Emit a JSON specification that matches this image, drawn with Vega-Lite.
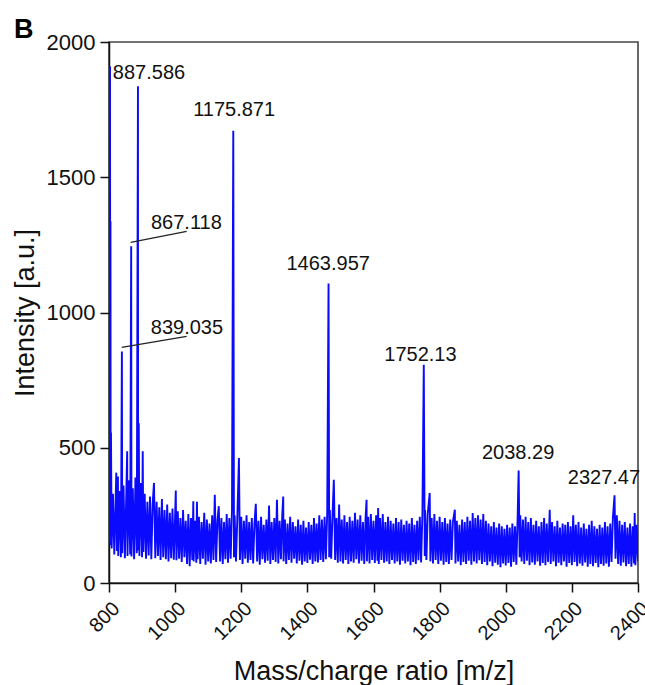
{
  "$schema": "https://vega.github.io/schema/vega-lite/v6.json",
  "autosize": "none",
  "width": 529,
  "height": 541,
  "padding": {"left": 109, "top": 42, "right": 7, "bottom": 102},
  "background": "white",
  "config": {
    "view": {"stroke": "#444", "strokeWidth": 1.6},
    "axis": {"grid": false, "domainColor": "#111", "domainWidth": 1.5, "tickColor": "#111", "tickWidth": 1.5, "tickSize": 9, "labelFont": "Liberation Sans", "labelColor": "#111", "titleFont": "Liberation Sans", "titleColor": "#111", "titleFontWeight": "normal", "titleFontSize": 27, "format": "d"}
  },
  "datasets": {
    "spectrum": [
      {"m":800,"i":150},{"m":802,"i":220},{"m":803,"i":1910},{"m":804,"i":300},{"m":804.5,"i":1337},{"m":805,"i":140},{"m":806,"i":556},{"m":808,"i":128},{"m":812,"i":330},{"m":816,"i":105},{"m":820,"i":300},{"m":822,"i":408},{"m":824,"i":118},{"m":827,"i":394},{"m":828,"i":100},{"m":832,"i":340},{"m":836,"i":95},{"m":839,"i":856},{"m":840,"i":110},{"m":844,"i":360},{"m":848,"i":92},{"m":852,"i":310},{"m":855,"i":487},{"m":856,"i":100},{"m":860,"i":380},{"m":864,"i":105},{"m":867.1,"i":1245},{"m":868,"i":98},{"m":872,"i":350},{"m":876,"i":88},{"m":880,"i":390},{"m":884,"i":110},{"m":887.6,"i":1836},{"m":888,"i":120},{"m":890,"i":591},{"m":892,"i":100},{"m":896,"i":370},{"m":900,"i":95},{"m":902,"i":487},{"m":904,"i":115},{"m":908,"i":330},{"m":912,"i":90},{"m":916,"i":300},{"m":920,"i":102},{"m":924,"i":320},{"m":928,"i":88},{"m":932,"i":290},{"m":936,"i":370},{"m":940,"i":92},{"m":944,"i":300},{"m":948,"i":100},{"m":952,"i":280},{"m":956,"i":85},{"m":960,"i":310},{"m":964,"i":95},{"m":968,"i":270},{"m":972,"i":88},{"m":976,"i":290},{"m":980,"i":80},{"m":984,"i":260},{"m":988,"i":92},{"m":992,"i":275},{"m":996,"i":86},{"m":1000,"i":250},{"m":1002,"i":342},{"m":1004,"i":84},{"m":1008,"i":265},{"m":1012,"i":90},{"m":1016,"i":240},{"m":1020,"i":78},{"m":1024,"i":270},{"m":1028,"i":95},{"m":1032,"i":230},{"m":1036,"i":70},{"m":1040,"i":255},{"m":1044,"i":62},{"m":1048,"i":240},{"m":1052,"i":85},{"m":1055,"i":302},{"m":1056,"i":80},{"m":1060,"i":230},{"m":1064,"i":75},{"m":1066,"i":300},{"m":1068,"i":88},{"m":1072,"i":245},{"m":1076,"i":70},{"m":1080,"i":225},{"m":1084,"i":90},{"m":1088,"i":260},{"m":1092,"i":68},{"m":1096,"i":235},{"m":1100,"i":80},{"m":1104,"i":220},{"m":1108,"i":72},{"m":1112,"i":250},{"m":1116,"i":85},{"m":1120,"i":326},{"m":1124,"i":78},{"m":1128,"i":230},{"m":1132,"i":284},{"m":1136,"i":80},{"m":1140,"i":240},{"m":1144,"i":70},{"m":1148,"i":225},{"m":1152,"i":88},{"m":1156,"i":255},{"m":1160,"i":75},{"m":1164,"i":240},{"m":1168,"i":90},{"m":1172,"i":270},{"m":1175.9,"i":1672},{"m":1178,"i":95},{"m":1180,"i":250},{"m":1184,"i":80},{"m":1188,"i":235},{"m":1193,"i":462},{"m":1196,"i":85},{"m":1200,"i":245},{"m":1204,"i":70},{"m":1208,"i":230},{"m":1212,"i":90},{"m":1216,"i":250},{"m":1220,"i":75},{"m":1224,"i":225},{"m":1228,"i":85},{"m":1232,"i":240},{"m":1236,"i":72},{"m":1240,"i":220},{"m":1244,"i":293},{"m":1248,"i":80},{"m":1252,"i":230},{"m":1256,"i":68},{"m":1260,"i":245},{"m":1264,"i":88},{"m":1268,"i":215},{"m":1272,"i":75},{"m":1276,"i":235},{"m":1280,"i":82},{"m":1284,"i":286},{"m":1288,"i":70},{"m":1292,"i":225},{"m":1296,"i":85},{"m":1300,"i":240},{"m":1304,"i":78},{"m":1308,"i":308},{"m":1312,"i":72},{"m":1316,"i":230},{"m":1320,"i":88},{"m":1324,"i":250},{"m":1327,"i":320},{"m":1328,"i":80},{"m":1332,"i":235},{"m":1336,"i":70},{"m":1340,"i":220},{"m":1344,"i":85},{"m":1348,"i":245},{"m":1352,"i":75},{"m":1356,"i":225},{"m":1360,"i":90},{"m":1364,"i":210},{"m":1368,"i":72},{"m":1372,"i":235},{"m":1376,"i":82},{"m":1380,"i":215},{"m":1384,"i":68},{"m":1388,"i":230},{"m":1392,"i":80},{"m":1396,"i":205},{"m":1400,"i":74},{"m":1404,"i":225},{"m":1408,"i":86},{"m":1412,"i":215},{"m":1416,"i":70},{"m":1420,"i":240},{"m":1424,"i":80},{"m":1428,"i":220},{"m":1432,"i":76},{"m":1436,"i":250},{"m":1440,"i":85},{"m":1444,"i":235},{"m":1448,"i":78},{"m":1452,"i":245},{"m":1456,"i":88},{"m":1460,"i":260},{"m":1464,"i":1107},{"m":1466,"i":95},{"m":1468,"i":270},{"m":1472,"i":90},{"m":1476,"i":250},{"m":1480,"i":382},{"m":1484,"i":85},{"m":1488,"i":240},{"m":1492,"i":75},{"m":1496,"i":290},{"m":1500,"i":80},{"m":1504,"i":235},{"m":1508,"i":72},{"m":1512,"i":250},{"m":1516,"i":85},{"m":1520,"i":225},{"m":1524,"i":70},{"m":1528,"i":245},{"m":1532,"i":80},{"m":1536,"i":230},{"m":1540,"i":75},{"m":1544,"i":260},{"m":1548,"i":88},{"m":1552,"i":235},{"m":1556,"i":72},{"m":1560,"i":250},{"m":1564,"i":82},{"m":1568,"i":225},{"m":1572,"i":70},{"m":1576,"i":240},{"m":1579,"i":308},{"m":1580,"i":80},{"m":1584,"i":245},{"m":1588,"i":72},{"m":1592,"i":255},{"m":1596,"i":85},{"m":1600,"i":230},{"m":1604,"i":74},{"m":1608,"i":250},{"m":1612,"i":82},{"m":1614,"i":277},{"m":1616,"i":70},{"m":1620,"i":240},{"m":1624,"i":85},{"m":1628,"i":255},{"m":1632,"i":75},{"m":1636,"i":225},{"m":1640,"i":80},{"m":1644,"i":245},{"m":1648,"i":70},{"m":1652,"i":230},{"m":1656,"i":85},{"m":1660,"i":220},{"m":1664,"i":72},{"m":1668,"i":240},{"m":1672,"i":80},{"m":1676,"i":225},{"m":1680,"i":68},{"m":1684,"i":235},{"m":1688,"i":82},{"m":1692,"i":215},{"m":1696,"i":72},{"m":1700,"i":230},{"m":1704,"i":80},{"m":1708,"i":220},{"m":1712,"i":66},{"m":1716,"i":240},{"m":1720,"i":78},{"m":1724,"i":215},{"m":1728,"i":70},{"m":1732,"i":230},{"m":1736,"i":84},{"m":1740,"i":245},{"m":1744,"i":76},{"m":1748,"i":260},{"m":1752.1,"i":807},{"m":1755,"i":100},{"m":1756,"i":270},{"m":1760,"i":85},{"m":1764,"i":255},{"m":1770,"i":333},{"m":1772,"i":80},{"m":1776,"i":240},{"m":1780,"i":72},{"m":1784,"i":255},{"m":1788,"i":85},{"m":1792,"i":230},{"m":1796,"i":70},{"m":1800,"i":245},{"m":1804,"i":82},{"m":1808,"i":225},{"m":1812,"i":68},{"m":1816,"i":240},{"m":1820,"i":78},{"m":1824,"i":220},{"m":1828,"i":70},{"m":1832,"i":235},{"m":1836,"i":85},{"m":1840,"i":225},{"m":1846,"i":271},{"m":1848,"i":72},{"m":1852,"i":230},{"m":1856,"i":80},{"m":1860,"i":215},{"m":1864,"i":66},{"m":1868,"i":235},{"m":1872,"i":78},{"m":1876,"i":225},{"m":1880,"i":70},{"m":1884,"i":245},{"m":1888,"i":82},{"m":1892,"i":230},{"m":1896,"i":68},{"m":1900,"i":259},{"m":1904,"i":80},{"m":1908,"i":240},{"m":1912,"i":72},{"m":1916,"i":250},{"m":1920,"i":84},{"m":1924,"i":235},{"m":1928,"i":70},{"m":1932,"i":255},{"m":1936,"i":78},{"m":1940,"i":230},{"m":1944,"i":66},{"m":1948,"i":220},{"m":1952,"i":80},{"m":1956,"i":210},{"m":1960,"i":62},{"m":1964,"i":225},{"m":1968,"i":75},{"m":1972,"i":205},{"m":1976,"i":68},{"m":1980,"i":220},{"m":1984,"i":58},{"m":1988,"i":210},{"m":1992,"i":72},{"m":1996,"i":200},{"m":2000,"i":65},{"m":2004,"i":215},{"m":2008,"i":74},{"m":2012,"i":205},{"m":2016,"i":60},{"m":2020,"i":220},{"m":2024,"i":78},{"m":2028,"i":210},{"m":2032,"i":68},{"m":2036,"i":245},{"m":2039,"i":416},{"m":2042,"i":95},{"m":2044,"i":250},{"m":2048,"i":80},{"m":2052,"i":235},{"m":2056,"i":70},{"m":2060,"i":245},{"m":2064,"i":82},{"m":2068,"i":225},{"m":2072,"i":66},{"m":2076,"i":240},{"m":2080,"i":76},{"m":2084,"i":215},{"m":2088,"i":68},{"m":2092,"i":230},{"m":2096,"i":80},{"m":2100,"i":210},{"m":2104,"i":64},{"m":2108,"i":225},{"m":2112,"i":74},{"m":2116,"i":240},{"m":2120,"i":66},{"m":2124,"i":220},{"m":2128,"i":78},{"m":2133,"i":271},{"m":2136,"i":70},{"m":2140,"i":225},{"m":2144,"i":80},{"m":2148,"i":210},{"m":2152,"i":62},{"m":2156,"i":230},{"m":2160,"i":75},{"m":2164,"i":205},{"m":2168,"i":66},{"m":2172,"i":220},{"m":2176,"i":80},{"m":2180,"i":215},{"m":2184,"i":60},{"m":2188,"i":225},{"m":2192,"i":74},{"m":2196,"i":210},{"m":2200,"i":66},{"m":2204,"i":250},{"m":2208,"i":78},{"m":2212,"i":215},{"m":2216,"i":62},{"m":2220,"i":225},{"m":2224,"i":72},{"m":2228,"i":205},{"m":2232,"i":64},{"m":2236,"i":220},{"m":2240,"i":76},{"m":2244,"i":200},{"m":2248,"i":60},{"m":2252,"i":215},{"m":2256,"i":70},{"m":2260,"i":230},{"m":2264,"i":62},{"m":2268,"i":210},{"m":2272,"i":74},{"m":2276,"i":200},{"m":2280,"i":58},{"m":2284,"i":215},{"m":2288,"i":70},{"m":2292,"i":205},{"m":2296,"i":64},{"m":2300,"i":225},{"m":2304,"i":72},{"m":2308,"i":210},{"m":2312,"i":60},{"m":2316,"i":220},{"m":2320,"i":78},{"m":2324,"i":240},{"m":2329,"i":324},{"m":2332,"i":90},{"m":2336,"i":250},{"m":2340,"i":70},{"m":2344,"i":230},{"m":2348,"i":64},{"m":2352,"i":215},{"m":2356,"i":76},{"m":2360,"i":225},{"m":2364,"i":62},{"m":2368,"i":205},{"m":2372,"i":70},{"m":2376,"i":220},{"m":2380,"i":60},{"m":2384,"i":210},{"m":2388,"i":72},{"m":2390,"i":259},{"m":2392,"i":66},{"m":2396,"i":215},{"m":2400,"i":80}
    ],
    "labels": [
      {"m":920.9,"i":1864,"label":"887.586"},
      {"m":1034,"i":1308,"label":"867.118"},
      {"m":1035.8,"i":922,"label":"839.035"},
      {"m":1178.5,"i":1727,"label":"1175.871"},
      {"m":1463,"i":1158,"label":"1463.957"},
      {"m":1742,"i":819,"label":"1752.13"},
      {"m":2037.4,"i":458,"label":"2038.29"},
      {"m":2297,"i":366,"label":"2327.47"}
    ],
    "leaders": [
      {"m":865.6,"i":1259,"m2":1034.9,"i2":1300},
      {"m":838.4,"i":871,"m2":1034.9,"i2":912}
    ],
    "panel": [
      {"m":800,"i":2000,"label":"B"}
    ]
  },
  "layer": [
    {
      "data": {"name": "spectrum"},
      "mark": {"type": "line", "color": "#0a0aff", "strokeWidth": 1.9, "clip": true},
      "encoding": {
        "x": {"field": "m", "type": "quantitative", "scale": {"domain": [800, 2400], "nice": false, "zero": false},
              "axis": {"title": "Mass/charge ratio [m/z]", "values": [800,1000,1200,1400,1600,1800,2000,2200,2400], "labelAngle": -45, "labelFontSize": 20, "labelPadding": 6, "titlePadding": 15}},
        "y": {"field": "i", "type": "quantitative", "scale": {"domain": [0, 2000], "nice": false},
              "axis": {"title": "Intensity [a.u.]", "values": [0,500,1000,1500,2000], "labelFontSize": 22, "labelPadding": 5, "titlePadding": 7}}
      }
    },
    {
      "data": {"name": "leaders"},
      "mark": {"type": "rule", "color": "#222", "strokeWidth": 1.2},
      "encoding": {
        "x": {"field": "m", "type": "quantitative"},
        "y": {"field": "i", "type": "quantitative"},
        "x2": {"field": "m2"},
        "y2": {"field": "i2"}
      }
    },
    {
      "data": {"name": "labels"},
      "mark": {"type": "text", "align": "center", "baseline": "alphabetic", "font": "Liberation Sans", "fontSize": 20, "color": "#111"},
      "encoding": {
        "x": {"field": "m", "type": "quantitative"},
        "y": {"field": "i", "type": "quantitative"},
        "text": {"field": "label"}
      }
    },
    {
      "data": {"name": "panel"},
      "mark": {"type": "text", "align": "left", "baseline": "alphabetic", "dx": -95, "dy": -4, "font": "Liberation Sans", "fontSize": 27, "fontWeight": "bold", "color": "#000"},
      "encoding": {
        "x": {"field": "m", "type": "quantitative"},
        "y": {"field": "i", "type": "quantitative"},
        "text": {"field": "label"}
      }
    }
  ]
}
